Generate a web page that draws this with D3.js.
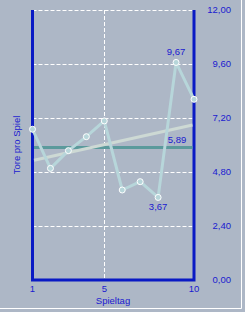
<!DOCTYPE html>
<html>
<head>
<meta charset="utf-8">
<script src="https://cdn.jsdelivr.net/npm/d3@7"></script>
<style>
  body { margin: 0; background: #adb7c6; }
  svg { display: block; }
  text { font-family: "Liberation Sans", Arial, sans-serif; fill: #1a1ad0; }
</style>
</head>
<body>
<script>
var spieltage = [1, 2, 3, 4, 5, 6, 7, 8, 9, 10];
var torePro = [6.70, 4.96, 5.75, 6.37, 7.07, 4.00, 4.37, 3.67, 9.67, 8.03];
var schnitt = 5.89;
var trendStart = 5.32, trendEnd = 6.89;
var yTicks = [0, 2.4, 4.8, 7.2, 9.6, 12];
var xTicks = [1, 5, 10];

var dim = {
    width: 245, height: 312,
    plot: { left: 32.5, right: 194, top: 10, bottom: 280 }
};

var fmt = function(v) { return d3.format(".2f")(v).replace(".", ","); };

var x = d3.scaleLinear().domain([1, 10]).range([dim.plot.left, dim.plot.right]);
var y = d3.scaleLinear().domain([0, 12]).range([dim.plot.bottom, dim.plot.top]);

var svg = d3.select("body").append("svg")
        .attr("width", dim.width)
        .attr("height", dim.height);

// frame
svg.append("path")
        .attr("d", "M241.5,0V308.5H0")
        .attr("fill", "none")
        .attr("stroke", "#ffffff")
        .attr("stroke-width", 1);

// grid
svg.append("g").selectAll("line").data(yTicks.filter(function(d) { return d > 0; }))
        .enter().append("line")
        .attr("x1", x(1)).attr("x2", x(10))
        .attr("y1", function(d) { return Math.round(y(d)) + 0.5; })
        .attr("y2", function(d) { return Math.round(y(d)) + 0.5; })
        .attr("stroke", "#ffffff")
        .attr("stroke-dasharray", "4,2");

svg.append("line")
        .attr("x1", Math.round(x(5)) + 0.5).attr("x2", Math.round(x(5)) + 0.5)
        .attr("y1", y(12)).attr("y2", y(0))
        .attr("stroke", "#ffffff")
        .attr("stroke-dasharray", "4,2");

// axes (drawn under the series, markers sit on top)
svg.append("path")
        .attr("d", "M" + x(1) + "," + y(12) + "V" + y(0) + "H" + x(10) + "V" + y(12))
        .attr("fill", "none")
        .attr("stroke", "#0a1ac4")
        .attr("stroke-width", 3);

// average line
svg.append("line")
        .attr("x1", x(1) + 1.5).attr("x2", x(10) - 1.5)
        .attr("y1", y(schnitt)).attr("y2", y(schnitt))
        .attr("stroke", "#5b9a9c")
        .attr("stroke-width", 3);

// trend line
svg.append("line")
        .attr("x1", x(1) + 1.5).attr("x2", x(10) - 1.5)
        .attr("y1", y(trendStart)).attr("y2", y(trendEnd))
        .attr("stroke", "#cdd9d4")
        .attr("stroke-width", 3);

// data line
var line = d3.line()
        .x(function(d, i) { return x(spieltage[i]); })
        .y(function(d) { return y(d); });

svg.append("path")
        .datum(torePro)
        .attr("d", line)
        .attr("fill", "none")
        .attr("stroke", "#b7d6da")
        .attr("stroke-width", 3)
        .attr("stroke-linejoin", "round");

svg.append("g").selectAll("circle").data(torePro)
        .enter().append("circle")
        .attr("cx", function(d, i) { return x(spieltage[i]); })
        .attr("cy", function(d) { return y(d); })
        .attr("r", 3)
        .attr("fill", "#b7d6da")
        .attr("stroke", "#ffffff")
        .attr("stroke-width", 1);

// right tick labels
svg.append("g").selectAll("text").data(yTicks)
        .enter().append("text")
        .attr("x", 231)
        .attr("y", function(d) { return y(d); })
        .attr("dy", "0.35em")
        .attr("text-anchor", "end")
        .attr("font-size", 9.5)
        .text(fmt);

// bottom tick labels
svg.append("g").selectAll("text").data(xTicks)
        .enter().append("text")
        .attr("x", function(d) { return x(d); })
        .attr("y", 289)
        .attr("dy", "0.35em")
        .attr("text-anchor", "middle")
        .attr("font-size", 9.5)
        .text(function(d) { return d; });

svg.append("text")
        .attr("x", 113)
        .attr("y", 301)
        .attr("dy", "0.35em")
        .attr("text-anchor", "middle")
        .attr("font-size", 9.5)
        .text("Spieltag");

svg.append("text")
        .attr("transform", "translate(17," + ((dim.plot.top + dim.plot.bottom) / 2) + ") rotate(-90)")
        .attr("dy", "0.35em")
        .attr("text-anchor", "middle")
        .attr("font-size", 9.5)
        .text("Tore pro Spiel");

// value labels
svg.append("text")
        .attr("x", x(9))
        .attr("y", y(torePro[8]) - 7)
        .attr("text-anchor", "middle")
        .attr("font-size", 9.5)
        .text(fmt(torePro[8]));

svg.append("text")
        .attr("x", x(8))
        .attr("y", y(torePro[7]) + 13)
        .attr("text-anchor", "middle")
        .attr("font-size", 9.5)
        .text(fmt(torePro[7]));

svg.append("text")
        .attr("x", 177)
        .attr("y", y(schnitt) - 4)
        .attr("text-anchor", "middle")
        .attr("font-size", 9.5)
        .text(fmt(schnitt));
</script>
</body>
</html>
